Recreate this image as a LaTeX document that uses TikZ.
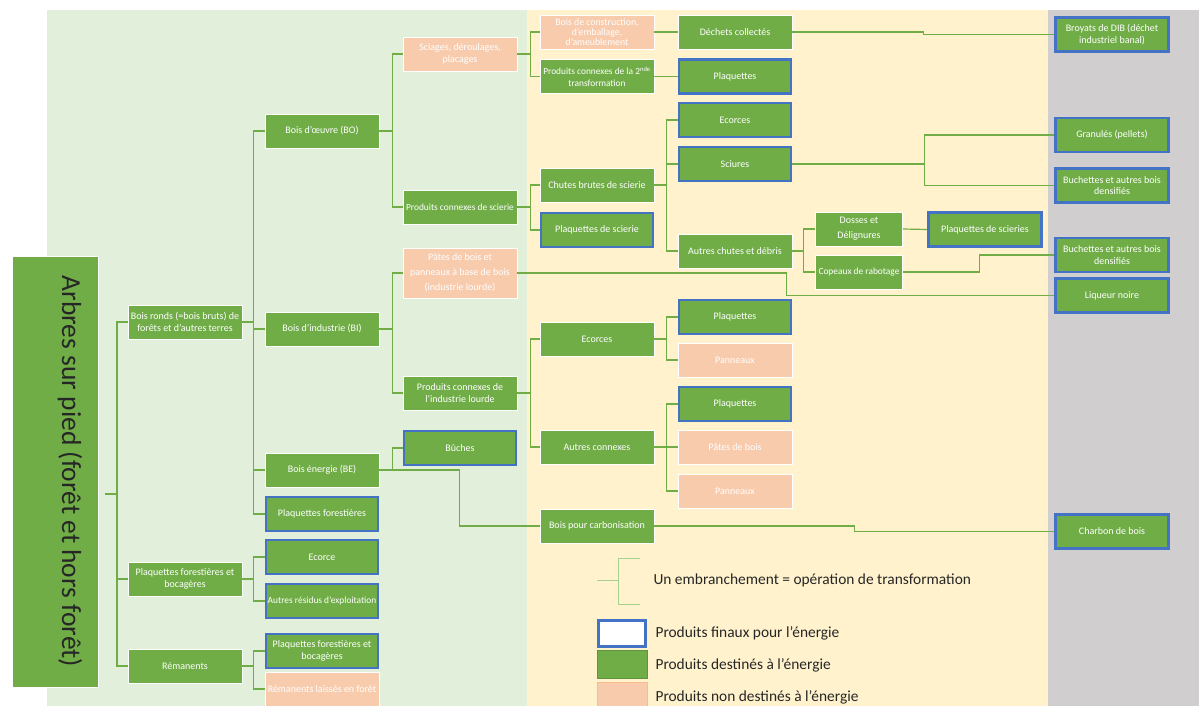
\documentclass[tikz,border=0pt]{standalone}
\usepackage{fontspec}
\setmainfont{Carlito}
\usetikzlibrary{positioning}

\definecolor{vert}{HTML}{70AD47}
\definecolor{bleu}{HTML}{4472C4}
\definecolor{rose}{HTML}{F8CBAD}
\definecolor{fondvert}{HTML}{E2EFDA}
\definecolor{fondjaune}{HTML}{FFF2CC}
\definecolor{fondgris}{HTML}{D0CECE}
\definecolor{vertclair}{HTML}{A9D18E}
\definecolor{texte}{HTML}{262626}

\newcommand{\petit}{\fontsize{10}{11.5}\selectfont}
\newcommand{\serre}{\fontsize{9.4}{11.5}\selectfont}

\begin{document}
\begin{tikzpicture}[x=1pt, y=-1pt,
        produit/.style={rectangle, fill=vert, draw=white, line width=0.6pt, text=white,
            minimum width=114pt, minimum height=34pt, inner xsep=0pt, inner ysep=1pt,
            align=center, font=\petit},
        final/.style={produit, draw=bleu, line width=2.6pt, minimum width=112pt, minimum height=34pt},
        autre/.style={produit, fill=rose},
        racine/.style={rectangle, fill=vert, draw=white, line width=0.6pt, rotate=-90,
            minimum width=431pt, minimum height=86pt, text=texte, text height=19pt, text depth=33pt,
            font=\fontsize{27.5}{30}\selectfont},
        lien/.style={draw=vert, line width=1.2pt},
        legende/.style={font=\fontsize{15.4}{17}\selectfont, text=texte, anchor=west}
    ]
        \useasboundingbox (0,0) rectangle (1199,706);

        % Fonds
        \fill[fondvert] (47,10) rectangle (527,706);
        \fill[fondjaune] (527,10) rectangle (1048,706);
        \fill[fondgris] (1048,10) rectangle (1199,706);

        % Racine et premier niveau
        \node[racine] (arbres) at (55,471.5) {Arbres sur pied (forêt et hors forêt)};
        \coordinate (tronc) at (105,494);
        \node[produit] (ronds) at (185,322) {Bois ronds (=bois bruts) de\\forêts et d’autres terres};
        \node[produit] (plaqfb) at (185,579) {Plaquettes forestières et\\bocagères};
        \node[produit] (reman) at (185,666) {Rémanents};

        % Deuxieme niveau
        \node[produit] (bo) at (322,131) {Bois d’œuvre (BO)};
        \node[produit] (bi) at (322,329) {Bois d’industrie (BI)};
        \node[produit] (be) at (322,470) {Bois énergie (BE)};
        \node[final] (plaqfor) at (322,514) {Plaquettes forestières};
        \node[final] (ecorce) at (322,557) {Ecorce};
        \node[final, font=\serre] (residus) at (322,601) {Autres résidus d’exploitation};
        \node[final] (plaqboc) at (322,651) {Plaquettes forestières et\\bocagères};
        \node[autre] (remforet) at (322,689) {Rémanents laissés en forêt};

        % Troisieme niveau
        \node[autre] (sciages) at (460,54) {Sciages, déroulages,\\placages};
        \node[produit, font=\serre] (pcscierie) at (460,207) {Produits connexes de scierie};
        \node[autre, minimum height=50pt, font=\fontsize{10}{15}\selectfont] (pates) at (460,273)
            {Pâtes de bois et\\panneaux à base de bois\\(industrie lourde)};
        \node[produit] (pcind) at (460,393) {Produits connexes de\\l’industrie lourde};
        \node[final] (buches) at (460,448) {Bûches};

        % Quatrieme niveau
        \node[autre, font=\fontsize{9.8}{10.3}\selectfont] (construc) at (597,32)
            {Bois de construction,\\d’emballage,\\d’ameublement};
        \node[produit, font=\serre] (pc2nde) at (597,76.5) {Produits connexes de la 2\textsuperscript{nde}\\transformation};
        \node[produit] (chutes) at (597,185) {Chutes brutes de scierie};
        \node[final] (plaqscierie) at (597,230) {Plaquettes de scierie};
        \node[produit] (ecorcesind) at (597,339) {Ecorces};
        \node[produit] (autresconn) at (597,447) {Autres connexes};
        \node[produit] (carbo) at (597,526) {Bois pour carbonisation};

        % Cinquieme niveau
        \node[produit] (dechets) at (735,32) {Déchets collectés};
        \node[final] (plaq2nde) at (735,76.5) {Plaquettes};
        \node[final] (ecorces) at (735,120) {Ecorces};
        \node[final] (sciures) at (735,164) {Sciures};
        \node[produit] (autreschutes) at (735,251) {Autres chutes et débris};
        \node[final] (plaqecorces) at (735,317) {Plaquettes};
        \node[autre] (panneauxa) at (735,360) {Panneaux};
        \node[final] (plaqautres) at (735,404) {Plaquettes};
        \node[autre] (patesbois) at (735,447) {Pâtes de bois};
        \node[autre] (panneauxb) at (735,491) {Panneaux};

        % Sixieme niveau
        \node[produit, minimum width=87pt, font=\fontsize{10}{15}\selectfont] (dosses) at (859,229) {Dosses et\\Délignures};
        \node[produit, minimum width=87pt, font=\serre] (copeaux) at (859,272) {Copeaux de rabotage};
        \node[final, minimum width=113pt] (plaqscieries) at (985,229.5) {Plaquettes de scieries};

        % Produits finaux (colonne grise)
        \node[final, minimum width=113pt] (broyats) at (1112,34.5) {Broyats de DIB (déchet\\industriel banal)};
        \node[final, minimum width=113pt] (granules) at (1112,135) {Granulés (pellets)};
        \node[final, minimum width=113pt] (bucha) at (1112,185.5) {Buchettes et autres bois\\densifiés};
        \node[final, minimum width=113pt] (buchb) at (1112,255) {Buchettes et autres bois\\densifiés};
        \node[final, minimum width=113pt] (liqueur) at (1112,295.5) {Liqueur noire};
        \node[final, minimum width=113pt] (charbon) at (1112,531.5) {Charbon de bois};

        % Embranchements
        \draw[lien] (tronc) -- ++(12,0) |- (ronds.west);
        \draw[lien] (tronc) -- ++(12,0) |- (plaqfb.west);
        \draw[lien] (tronc) -- ++(12,0) |- (reman.west);

        \draw[lien] (ronds.east) -- ++(11,0) |- (bo.west);
        \draw[lien] (ronds.east) -- ++(11,0) |- (bi.west);
        \draw[lien] (ronds.east) -- ++(11,0) |- (be.west);
        \draw[lien] (ronds.east) -- ++(11,0) |- (plaqfor.west);
        \draw[lien] (plaqfb.east) -- ++(11,0) |- (ecorce.west);
        \draw[lien] (plaqfb.east) -- ++(11,0) |- (residus.west);
        \draw[lien] (reman.east) -- ++(11,0) |- (plaqboc.west);
        \draw[lien] (reman.east) -- ++(11,0) |- (remforet.west);

        \draw[lien] (bo.east) -- ++(13,0) |- (sciages.west);
        \draw[lien] (bo.east) -- ++(13,0) |- (pcscierie.west);
        \draw[lien] (bi.east) -- ++(13,0) |- (pates.west);
        \draw[lien] (bi.east) -- ++(13,0) |- (pcind.west);
        \draw[lien] (be.east) -- ++(13,0) |- (buches.west);
        \draw[lien] (be.east) -- ++(80,0) |- (carbo.west);

        \draw[lien] (sciages.east) -- ++(13,0) |- (construc.west);
        \draw[lien] (sciages.east) -- ++(13,0) |- (pc2nde.west);
        \draw[lien] (pcscierie.east) -- ++(13,0) |- (chutes.west);
        \draw[lien] (pcscierie.east) -- ++(13,0) |- (plaqscierie.west);
        \draw[lien] (pcind.east) -- ++(13,0) |- (ecorcesind.west);
        \draw[lien] (pcind.east) -- ++(13,0) |- (autresconn.west);

        \draw[lien] (construc.east) -- (dechets.west);
        \draw[lien] (pc2nde.east) -- (plaq2nde.west);
        \draw[lien] (chutes.east) -- ++(12,0) |- (ecorces.west);
        \draw[lien] (chutes.east) -- ++(12,0) |- (sciures.west);
        \draw[lien] (chutes.east) -- ++(12,0) |- (autreschutes.west);
        \draw[lien] (ecorcesind.east) -- ++(12,0) |- (plaqecorces.west);
        \draw[lien] (ecorcesind.east) -- ++(12,0) |- (panneauxa.west);
        \draw[lien] (autresconn.east) -- ++(12,0) |- (plaqautres.west);
        \draw[lien] (autresconn.east) -- ++(12,0) |- (patesbois.west);
        \draw[lien] (autresconn.east) -- ++(12,0) |- (panneauxb.west);

        \draw[lien] (autreschutes.east) -- ++(11,0) |- (dosses.west);
        \draw[lien] (autreschutes.east) -- ++(11,0) |- (copeaux.west);
        \draw[lien] (dosses.east) -- (plaqscieries.west);

        % Vers les produits finaux
        \draw[lien] (dechets.east) -- ++(131,0) |- (broyats.west);
        \draw[lien] (sciures.east) -- ++(132,0) |- (granules.west);
        \draw[lien] (sciures.east) -- ++(132,0) |- (bucha.west);
        \draw[lien] (copeaux.east) -- ++(76.5,0) |- (buchb.west);
        \draw[lien] (pates.east) -- ++(269,0) |- (liqueur.west);
        \draw[lien] (carbo.east) -- ++(200,0) |- (charbon.west);

        % Legende
        \draw[vertclair, line width=0.8pt] (597,580) -- (618,580);
        \draw[vertclair, line width=0.8pt] (640,558) -| (618,604) -- (640,604);
        \node[legende] (lembr) at (650,580) {Un embranchement = opération de transformation};
        \node[fill=white, draw=bleu, line width=2.6pt, minimum width=47pt, minimum height=26pt] (lfinal) at (622,633.5) {};
        \node[fill=vert, draw=vert!85!black, line width=0.6pt, minimum width=50pt, minimum height=28pt] (lprod) at (622,664) {};
        \node[fill=rose, draw=rose!80!orange, line width=0.6pt, minimum width=50pt, minimum height=28pt] (lautre) at (622,696) {};
        \node[legende] (tfinal) at (652,633) {Produits finaux pour l’énergie};
        \node[legende] (tprod) at (652,665) {Produits destinés à l’énergie};
        \node[legende] (tautre) at (652,697) {Produits non destinés à l’énergie};
    \end{tikzpicture}
\end{document}
